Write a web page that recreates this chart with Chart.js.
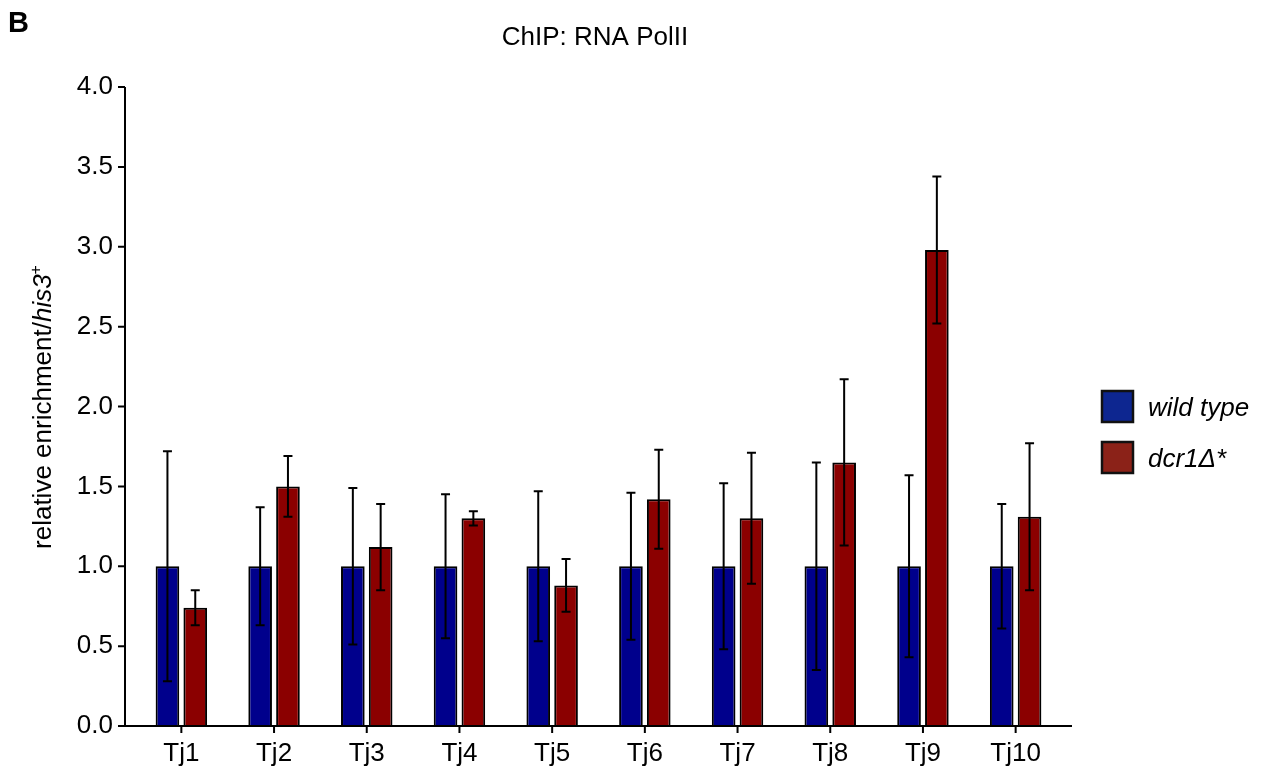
<!DOCTYPE html>
<html>
<head>
<meta charset="utf-8">
<script src="https://cdn.jsdelivr.net/npm/chart.js@4/dist/chart.umd.min.js"></script>
<style>
    body { margin: 0; background: #fff; }
    #wrap { width: 1267px; height: 772px; }
</style>
</head>
<body>
<div id="wrap"><canvas id="polChart" width="1267" height="772"></canvas></div>
<script>
// 데이터
const categories = ['Tj1', 'Tj2', 'Tj3', 'Tj4', 'Tj5', 'Tj6', 'Tj7', 'Tj8', 'Tj9', 'Tj10'];
const wildType = [1.0, 1.0, 1.0, 1.0, 1.0, 1.0, 1.0, 1.0, 1.0, 1.0];
const wildTypeErr = [0.72, 0.37, 0.49, 0.45, 0.47, 0.46, 0.52, 0.65, 0.57, 0.39];
const dcr1 = [0.74, 1.50, 1.12, 1.30, 0.88, 1.42, 1.30, 1.65, 2.98, 1.31];
const dcr1Err = [0.11, 0.19, 0.27, 0.045, 0.165, 0.31, 0.41, 0.52, 0.46, 0.46];
const yTicks = [0, 0.5, 1.0, 1.5, 2.0, 2.5, 3.0, 3.5, 4.0];

const seriesNames = ['wild type', 'dcr1Δ*'];
const barColors = ['#00008c', '#8b0000'];
const legendColors = ['#0d2690', '#8b2218'];
const errors = [wildTypeErr, dcr1Err];

const FONT = "'Liberation Sans', Arial, sans-serif";
Chart.defaults.font.family = FONT;
Chart.defaults.color = '#000';

// 에러바
const errorBarPlugin = {
    id: 'errorBars',
    afterDatasetsDraw(chart) {
        const ctx = chart.ctx;
        const yScale = chart.scales.y;
        ctx.save();
        ctx.strokeStyle = '#000';
        ctx.lineWidth = 2;
        chart.data.datasets.forEach((ds, di) => {
            const meta = chart.getDatasetMeta(di);
            meta.data.forEach((bar, i) => {
                const v = ds.data[i];
                const e = errors[di][i];
                const top = yScale.getPixelForValue(v + e);
                const bot = yScale.getPixelForValue(v - e);
                ctx.beginPath();
                ctx.moveTo(bar.x, top);
                ctx.lineTo(bar.x, bot);
                ctx.moveTo(bar.x - 4.5, top);
                ctx.lineTo(bar.x + 4.5, top);
                ctx.moveTo(bar.x - 4.5, bot);
                ctx.lineTo(bar.x + 4.5, bot);
                ctx.stroke();
            });
        });
        ctx.restore();
    }
};

// 축, 제목, 범례
const decorPlugin = {
    id: 'decor',
    afterDraw(chart) {
        const ctx = chart.ctx;
        const area = chart.chartArea;
        const xScale = chart.scales.x;
        const yScale = chart.scales.y;
        const axisX = area.left - 10;
        const axisRight = area.right + 10;

        ctx.save();
        ctx.strokeStyle = '#000';
        ctx.lineWidth = 2;
        ctx.beginPath();
        // y축
        ctx.moveTo(axisX, area.top);
        ctx.lineTo(axisX, area.bottom);
        yTicks.forEach(t => {
            const py = yScale.getPixelForValue(t);
            ctx.moveTo(axisX - 7, py);
            ctx.lineTo(axisX, py);
        });
        // x축
        ctx.moveTo(axisX - 1, area.bottom);
        ctx.lineTo(axisRight, area.bottom);
        categories.forEach((c, i) => {
            const px = xScale.getPixelForValue(i);
            ctx.moveTo(px, area.bottom);
            ctx.lineTo(px, area.bottom + 7);
        });
        ctx.stroke();

        ctx.fillStyle = '#000';
        ctx.textBaseline = 'alphabetic';

        // 패널 글자
        ctx.font = 'bold 29px ' + FONT;
        ctx.textAlign = 'left';
        ctx.fillText('B', 8, 32);

        // 제목
        ctx.font = '26px ' + FONT;
        ctx.textAlign = 'center';
        ctx.fillText('ChIP: RNA PolII', 595, 45);

        // y축 제목
        ctx.translate(51, 407);
        ctx.rotate(-Math.PI / 2);
        ctx.textAlign = 'left';
        const p1 = 'relative enrichment/';
        const p2 = 'his3';
        const p3 = '+';
        ctx.font = '26px ' + FONT;
        const w1 = ctx.measureText(p1).width;
        ctx.font = 'italic 26px ' + FONT;
        const w2 = ctx.measureText(p2).width;
        ctx.font = '16px ' + FONT;
        const w3 = ctx.measureText(p3).width;
        let sx = -(w1 + w2 + w3) / 2;
        ctx.font = '26px ' + FONT;
        ctx.fillText(p1, sx, 0);
        sx += w1;
        ctx.font = 'italic 26px ' + FONT;
        ctx.fillText(p2, sx, 0);
        sx += w2;
        ctx.font = '16px ' + FONT;
        ctx.fillText(p3, sx, -10);
        ctx.setTransform(1, 0, 0, 1, 0, 0);

        // 범례
        const boxY = [391, 442];
        seriesNames.forEach((name, i) => {
            ctx.fillStyle = legendColors[i];
            ctx.fillRect(1102, boxY[i], 31, 31);
            ctx.lineWidth = 2.5;
            ctx.strokeStyle = '#111';
            ctx.strokeRect(1102, boxY[i], 31, 31);
            ctx.fillStyle = '#000';
            ctx.font = 'italic 26px ' + FONT;
            ctx.textAlign = 'left';
            ctx.fillText(name, 1148, boxY[i] + 25);
        });
        ctx.restore();
    }
};

function CreatePolChart() {
    const ctx = document.getElementById('polChart').getContext('2d');
    return new Chart(ctx, {
        type: 'bar',
        data: {
            labels: categories,
            datasets: [{
                label: seriesNames[0],
                data: wildType,
                backgroundColor: barColors[0],
                borderColor: '#000',
                borderWidth: 2,
                borderSkipped: 'start',
                categoryPercentage: 0.6,
                barPercentage: 0.85
            }, {
                label: seriesNames[1],
                data: dcr1,
                backgroundColor: barColors[1],
                borderColor: '#000',
                borderWidth: 2,
                borderSkipped: 'start',
                categoryPercentage: 0.6,
                barPercentage: 0.85
            }]
        },
        options: {
            responsive: false,
            animation: false,
            layout: { padding: { top: 87, right: 205, left: 0, bottom: 0 } },
            plugins: {
                legend: { display: false },
                title: { display: false },
                tooltip: { enabled: false }
            },
            scales: {
                x: {
                    grid: { display: false },
                    border: { display: false },
                    ticks: { font: { size: 26 }, padding: 4, maxRotation: 0 },
                    afterFit: s => { s.height = 46; }
                },
                y: {
                    min: 0,
                    max: 4,
                    grid: { display: false },
                    border: { display: false },
                    afterBuildTicks: s => { s.ticks = yTicks.map(v => ({ value: v })); },
                    ticks: {
                        font: { size: 26 },
                        padding: 14,
                        callback: v => Number(v).toFixed(1)
                    },
                    afterFit: s => { s.width = 135; }
                }
            }
        },
        plugins: [errorBarPlugin, decorPlugin]
    });
}

CreatePolChart();
</script>
</body>
</html>
